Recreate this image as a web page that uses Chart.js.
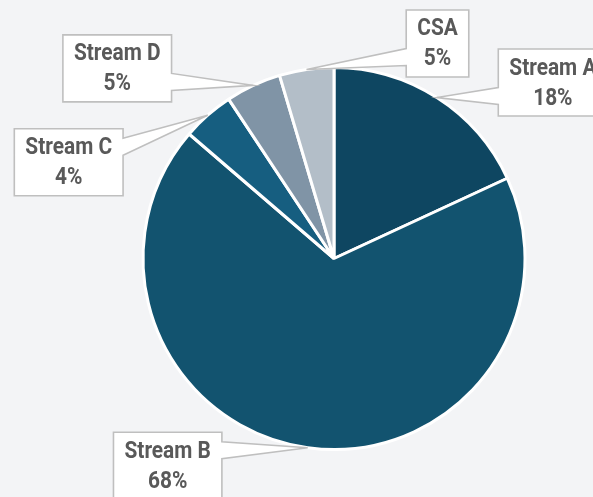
<!DOCTYPE html>
<html>
<head>
<meta charset="utf-8">
<script src="https://cdn.jsdelivr.net/npm/chart.js@4.4.1/dist/chart.umd.min.js"></script>
<style>
    html, body { margin: 0; padding: 0; background: #f3f4f6; }
    #wrap { width: 593px; height: 497px; position: relative; }
</style>
</head>
<body>
<div id="wrap"><canvas id="pieChart"></canvas></div>
<script>
// Dati del grafico
const categories = ['Stream A', 'Stream B', 'Stream C', 'Stream D', 'CSA'];
const shares = [18.1, 68.2, 4.4, 4.7, 4.6];
const sliceColors = ['#0e4661', '#12536f', '#165e80', '#8094a6', '#b3bec8'];

// Posizione dei riquadri rispetto alla punta del richiamo (solo layout)
const calloutOffsets = [
    { dx: 116, dy: -15 },
    { dx: -140, dy: 18 },
    { dx: -139, dy: 47 },
    { dx: -136, dy: -17 },
    { dx: 131, dy: -26 }
];

const FONT = 'bold 24px Roboto, "DejaVu Sans Condensed", sans-serif';
const TEXT_SCALE = 0.87; // carattere "condensato"

const backgroundPlugin = {
    id: 'bg',
    beforeDraw: function(chart) {
        const ctx = chart.ctx;
        ctx.save();
        ctx.fillStyle = '#f3f4f6';
        ctx.fillRect(0, 0, chart.width, chart.height);
        ctx.restore();
    }
};

// Riquadri con il richiamo verso la fetta
const calloutPlugin = {
    id: 'callouts',
    afterDatasetsDraw: function(chart) {
        const ctx = chart.ctx;
        const meta = chart.getDatasetMeta(0);
        const total = shares.reduce((a, b) => a + b, 0);
        ctx.save();
        ctx.font = FONT;
        meta.data.forEach((arc, i) => {
            const mid = (arc.startAngle + arc.endAngle) / 2;
            const tipX = arc.x + Math.cos(mid) * arc.outerRadius;
            const tipY = arc.y + Math.sin(mid) * arc.outerRadius;
            const off = calloutOffsets[i];
            const cx = tipX + off.dx;
            const cy = tipY + off.dy;
            const lines = [categories[i], Math.round(shares[i] / total * 100) + '%'];
            const w = Math.max(...lines.map(t => ctx.measureText(t).width * TEXT_SCALE)) + 22;
            const h = 67;
            const x0 = cx - w / 2, x1 = cx + w / 2;
            const y0 = cy - h / 2, y1 = cy + h / 2;
            const baseMid = Math.min(Math.max(tipY, y0 + 18), y1 - 20);
            const b1 = baseMid - 8.5, b2 = baseMid + 8.5;

            ctx.beginPath();
            if (tipX < x0) {
                ctx.moveTo(x0, y0);
                ctx.lineTo(x1, y0);
                ctx.lineTo(x1, y1);
                ctx.lineTo(x0, y1);
                ctx.lineTo(x0, b2);
                ctx.lineTo(tipX, tipY);
                ctx.lineTo(x0, b1);
            } else {
                ctx.moveTo(x0, y0);
                ctx.lineTo(x1, y0);
                ctx.lineTo(x1, b1);
                ctx.lineTo(tipX, tipY);
                ctx.lineTo(x1, b2);
                ctx.lineTo(x1, y1);
                ctx.lineTo(x0, y1);
            }
            ctx.closePath();
            ctx.fillStyle = '#ffffff';
            ctx.fill();
            ctx.lineWidth = 1.6;
            ctx.strokeStyle = '#bfbfbf';
            ctx.stroke();

            ctx.fillStyle = '#595959';
            ctx.textAlign = 'center';
            ctx.textBaseline = 'middle';
            [cy - 14, cy + 16].forEach((ty, k) => {
                ctx.save();
                ctx.translate(cx, ty);
                ctx.scale(TEXT_SCALE, 1);
                ctx.fillText(lines[k], 0, 0);
                ctx.restore();
            });
        });
        ctx.restore();
    }
};

const chart = new Chart(document.getElementById('pieChart'), {
    type: 'pie',
    data: {
        labels: categories,
        datasets: [{
            data: shares,
            backgroundColor: sliceColors,
            borderColor: '#ffffff',
            borderWidth: 3
        }]
    },
    options: {
        responsive: true,
        maintainAspectRatio: false,
        animation: false,
        radius: 191,
        layout: {
            padding: { left: 75, right: 0, top: 20, bottom: 0 }
        },
        plugins: {
            legend: { display: false },
            tooltip: { enabled: false }
        }
    },
    plugins: [backgroundPlugin, calloutPlugin]
});
</script>
</body>
</html>
